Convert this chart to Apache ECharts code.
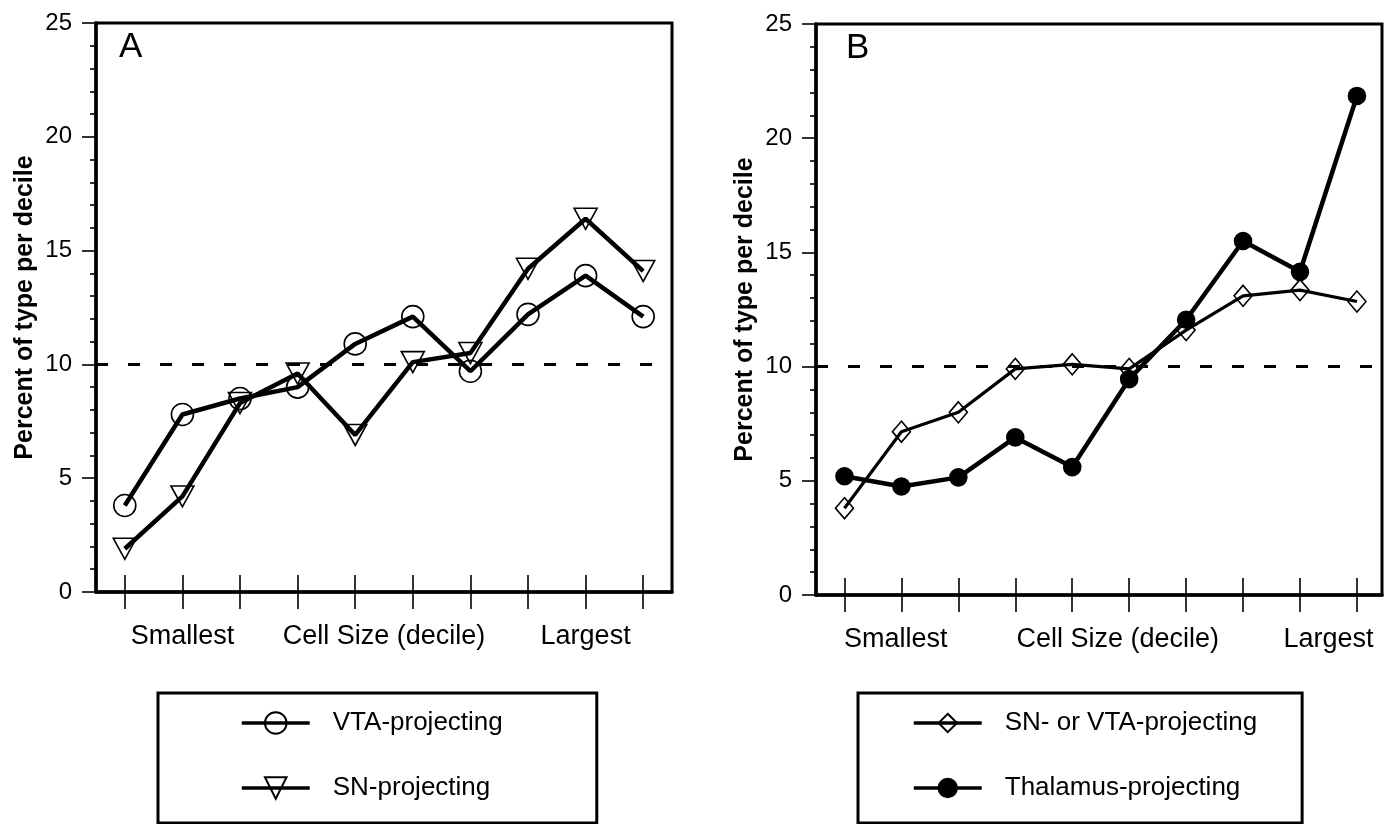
<!DOCTYPE html>
<html>
<head>
<meta charset="utf-8">
<title>Cell size deciles</title>
<script src="https://cdn.jsdelivr.net/npm/echarts@6/dist/echarts.min.js"></script>
<style>
  html, body { margin: 0; padding: 0; background: #fff; }
  #chart { width: 1391px; height: 824px; }
</style>
</head>
<body>
<div id="chart"></div>
<script>
// deciles of cell size, smallest -> largest
const deciles = [1, 2, 3, 4, 5, 6, 7, 8, 9, 10];
const yTicks = [0, 5, 10, 15, 20, 25];
const xLabels = ['Smallest', 'Cell Size (decile)', 'Largest'];
const xLabelPosA = [2, 5.5, 9];
const xLabelPosB = [1.9, 5.8, 9.5];
const chanceLevel = 10;

// panel A
const vtaProjecting = [3.8, 7.8, 8.5, 9.0, 10.9, 12.1, 9.7, 12.2, 13.9, 12.1];
const snProjecting = [1.9, 4.2, 8.3, 9.6, 6.9, 10.1, 10.5, 14.2, 16.4, 14.1];
// panel B
const snOrVtaProjecting = [3.8, 7.15, 8.0, 9.9, 10.1, 9.9, 11.6, 13.1, 13.35, 12.85];
const thalamusProjecting = [5.2, 4.75, 5.15, 6.9, 5.6, 9.45, 12.05, 15.5, 14.15, 21.85];

const FONT = 'Liberation Sans';
const INV_TRIANGLE = 'path://M0,0L20,0L10,18Z';

function pairs(values) {
  var ret = [];
  for (var i in values) {
    ret.push([deciles[i], values[i]]);
  }
  return ret;
}

function lineSeries(name, values, idx, symbol, size, fill, width) {
  return {
    name: name,
    type: 'line',
    xAxisIndex: idx * 2,
    yAxisIndex: idx,
    data: pairs(values),
    symbol: symbol,
    symbolSize: size,
    showAllSymbol: true,
    lineStyle: { color: '#000', width: width },
    itemStyle: { color: fill, borderColor: '#000', borderWidth: 1.6 },
    emphasis: { disabled: true },
    silent: true,
    z: 3
  };
}

function dashedTen(max) {
  return {
    silent: true,
    symbol: 'none',
    label: { show: false },
    lineStyle: { color: '#000', width: 3.2, type: [12, 20] },
    data: [[{ coord: [0.5, chanceLevel] }, { coord: [max, chanceLevel] }]]
  };
}

function xAxes(idx, max, labelPos) {
  var base = {
    type: 'value',
    gridIndex: idx,
    min: 0.5,
    max: max,
    position: 'bottom',
    splitLine: { show: false }
  };
  return [
    Object.assign({}, base, {
      axisLine: { show: true, onZero: false, lineStyle: { color: '#000', width: 3.5 } },
      axisTick: { show: true, customValues: deciles, length: 17, lineStyle: { color: '#000', width: 1.6 } },
      axisLabel: {
        show: true,
        customValues: labelPos,
        margin: 31,
        fontSize: 27,
        fontFamily: FONT,
        color: '#000',
        formatter: function (v) { return xLabels[labelPos.indexOf(v)]; }
      }
    }),
    Object.assign({}, base, {
      axisLine: { show: false },
      axisTick: { show: true, inside: true, customValues: deciles, length: 17, lineStyle: { color: '#000', width: 1.6 } },
      axisLabel: { show: false }
    })
  ];
}

function yAxis(idx) {
  return {
    type: 'value',
    gridIndex: idx,
    min: yTicks[0],
    max: yTicks[yTicks.length - 1],
    interval: 5,
    name: 'Percent of type per decile',
    nameLocation: 'middle',
    nameGap: 58,
    nameTextStyle: { fontSize: 25, fontWeight: 'bold', fontFamily: FONT, color: '#000' },
    axisLine: { show: true, onZero: false, lineStyle: { color: '#000', width: 3.5 } },
    axisTick: { show: true, length: 14, lineStyle: { color: '#000', width: 1.6 } },
    minorTick: { show: true, splitNumber: 5, length: 6, lineStyle: { color: '#000', width: 1.6 } },
    axisLabel: { fontSize: 24, fontFamily: FONT, color: '#000', margin: 24 },
    splitLine: { show: false }
  };
}

function legendBox(names, left, padding, iconH) {
  return {
    data: names,
    orient: 'vertical',
    left: left,
    top: 693,
    padding: padding,
    itemWidth: 68,
    itemHeight: iconH,
    itemGap: 35,
    borderColor: '#000',
    borderWidth: 3,
    selectedMode: false,
    lineStyle: { width: 3.5 },
    textStyle: { fontSize: 26, fontFamily: FONT, color: '#000', lineHeight: 30, padding: [0, 0, 0, 18] }
  };
}

const chart = echarts.init(document.getElementById('chart'));

var seriesA1 = lineSeries('VTA-projecting', vtaProjecting, 0, 'circle', 22, 'transparent', 4.5);
var seriesA2 = lineSeries('SN-projecting', snProjecting, 0, INV_TRIANGLE, [23, 21], 'transparent', 4.5);
seriesA2.markLine = dashedTen(10.5);
var seriesB1 = lineSeries('SN- or VTA-projecting', snOrVtaProjecting, 1, 'diamond', [18, 21], 'transparent', 3.2);
var seriesB2 = lineSeries('Thalamus-projecting', thalamusProjecting, 1, 'circle', 17, '#000', 4.5);
seriesB2.markLine = dashedTen(10.44);

chart.setOption({
  animation: false,
  textStyle: { fontFamily: FONT, color: '#000' },
  title: [
    { text: 'A', left: 119, top: 30, padding: 0, textStyle: { fontSize: 35, fontWeight: 'normal', fontFamily: FONT, color: '#000' } },
    { text: 'B', left: 846, top: 31, padding: 0, textStyle: { fontSize: 35, fontWeight: 'normal', fontFamily: FONT, color: '#000' } }
  ],
  grid: [
    { left: 96, top: 23, width: 576, height: 569, show: true, borderColor: '#000', borderWidth: 3 },
    { left: 816, top: 24, width: 566, height: 571, show: true, borderColor: '#000', borderWidth: 3 }
  ],
  xAxis: xAxes(0, 10.5, xLabelPosA).concat(xAxes(1, 10.44, xLabelPosB)),
  yAxis: [yAxis(0), yAxis(1)],
  legend: [
    legendBox(['VTA-projecting', 'SN-projecting'], 158, [15, 94, 20, 82], 27),
    legendBox(['SN- or VTA-projecting', 'Thalamus-projecting'], 858, [15, 45, 20, 54], 23)
  ],
  series: [seriesA1, seriesA2, seriesB1, seriesB2]
});
</script>
</body>
</html>
